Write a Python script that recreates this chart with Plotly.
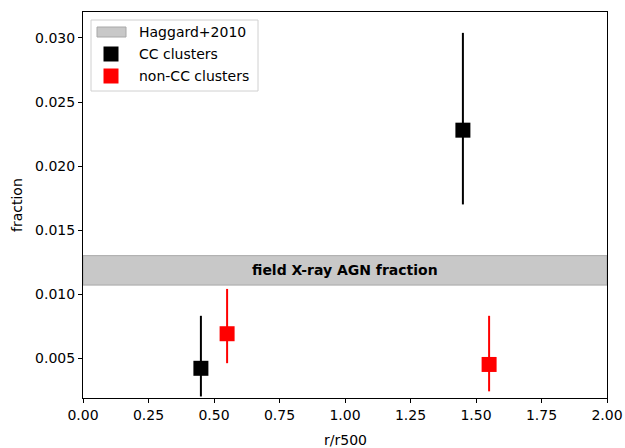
import plotly.graph_objects as go

# Data
band_low, band_high = 0.0107, 0.0130
band_label = "field X-ray AGN fraction"
band_name = "Haggard+2010"

cc_name = "CC clusters"
cc_x = [0.45, 1.45]
cc_y = [0.0042, 0.0228]
cc_err_up = [0.0083 - 0.0042, 0.0304 - 0.0228]
cc_err_dn = [0.0042 - 0.0020, 0.0228 - 0.0170]

ncc_name = "non-CC clusters"
ncc_x = [0.55, 1.55]
ncc_y = [0.0069, 0.0045]
ncc_err_up = [0.0104 - 0.0069, 0.0083 - 0.0045]
ncc_err_dn = [0.0069 - 0.0046, 0.0045 - 0.0024]

x_range = [0.0, 2.0]
y_range = [0.00188, 0.03203]
x_ticks = [0.0, 0.25, 0.5, 0.75, 1.0, 1.25, 1.5, 1.75, 2.0]
y_ticks = [0.005, 0.010, 0.015, 0.020, 0.025, 0.030]

font = "DejaVu Sans"
FS = 14
W, H = 625, 448
ML, MR, MT, MB = 83, 18, 12, 50
PW, PH = W - ML - MR, H - MT - MB


def px_x(p):
    return (p - ML) / PW


def px_y(p):
    return (H - MB - p) / PH


band_fill = "#c8c8c8"
band_edge = "#a8a8a8"

fig = go.Figure()

fig.add_trace(go.Scatter(
    x=[x_range[0], x_range[1], x_range[1], x_range[0], x_range[0]],
    y=[band_low, band_low, band_high, band_high, band_low],
    fill="toself", fillcolor=band_fill,
    line=dict(color=band_edge, width=1),
    mode="lines", name=band_name, hoverinfo="skip", showlegend=False,
))

fig.add_trace(go.Scatter(
    x=cc_x, y=cc_y, mode="markers", name=cc_name, showlegend=False,
    marker=dict(symbol="square", size=15, color="black"),
    error_y=dict(type="data", array=cc_err_up, arrayminus=cc_err_dn,
                 color="black", thickness=2, width=0),
))

fig.add_trace(go.Scatter(
    x=ncc_x, y=ncc_y, mode="markers", name=ncc_name, showlegend=False,
    marker=dict(symbol="square", size=15, color="red"),
    error_y=dict(type="data", array=ncc_err_up, arrayminus=ncc_err_dn,
                 color="red", thickness=2, width=0),
))

fig.add_annotation(
    x=1.0, y=(band_low + band_high) / 2, text="<b>" + band_label + "</b>",
    showarrow=False, font=dict(family=font, size=FS, color="black"),
)

# Axis titles
fig.add_annotation(x=0.5, y=px_y(440), xref="paper", yref="paper",
                   text="r/r500", showarrow=False, xanchor="center",
                   yanchor="middle", font=dict(family=font, size=FS))
fig.add_annotation(x=px_x(17), y=0.5, xref="paper", yref="paper",
                   text="fraction", showarrow=False, textangle=-90,
                   xanchor="center", yanchor="middle",
                   font=dict(family=font, size=FS))

# Manual legend (matplotlib style)
shapes = [
    dict(type="rect", xref="paper", yref="paper",
         x0=px_x(91), x1=px_x(258), y0=px_y(91), y1=px_y(20),
         line=dict(color="#d0d0d0", width=1), fillcolor="white",
         layer="below"),
    dict(type="rect", xref="paper", yref="paper",
         x0=px_x(97), x1=px_x(126), y0=px_y(37), y1=px_y(27),
         line=dict(color=band_edge, width=1), fillcolor=band_fill,
         layer="above"),
]
fig.update_layout(shapes=shapes)

legend_rows = [(band_name, 32, None), (cc_name, 54, "black"), (ncc_name, 76, "red")]
for name, cy, col in legend_rows:
    fig.add_annotation(x=px_x(137), y=px_y(cy), xref="paper", yref="paper",
                       text=name, showarrow=False, xanchor="left",
                       yanchor="middle", font=dict(family=font, size=FS))
    if col is not None:
        fig.add_trace(go.Scatter(
            x=[px_x(111) * (x_range[1] - x_range[0]) + x_range[0]],
            y=[y_range[0] + px_y(cy) * (y_range[1] - y_range[0])],
            mode="markers", showlegend=False, hoverinfo="skip",
            marker=dict(symbol="square", size=15, color=col),
        ))

axis_common = dict(
    showgrid=False, zeroline=False, showline=True, linecolor="black",
    linewidth=1, mirror=True, ticks="outside", ticklen=4, tickwidth=1,
    tickcolor="black", tickfont=dict(family=font, size=FS, color="black"),
    automargin=False,
)

fig.update_layout(
    width=W, height=H,
    margin=dict(l=ML, r=MR, t=MT, b=MB, autoexpand=False),
    paper_bgcolor="white", plot_bgcolor="white",
    font=dict(family=font, size=FS, color="black"),
    xaxis=dict(range=x_range, tickvals=x_ticks,
               ticktext=[f"{v:.2f}" for v in x_ticks], **axis_common),
    yaxis=dict(range=y_range, tickvals=y_ticks,
               ticktext=[f"{v:.3f}" for v in y_ticks], **axis_common),
    showlegend=False,
)

fig.write_html("out.html")
